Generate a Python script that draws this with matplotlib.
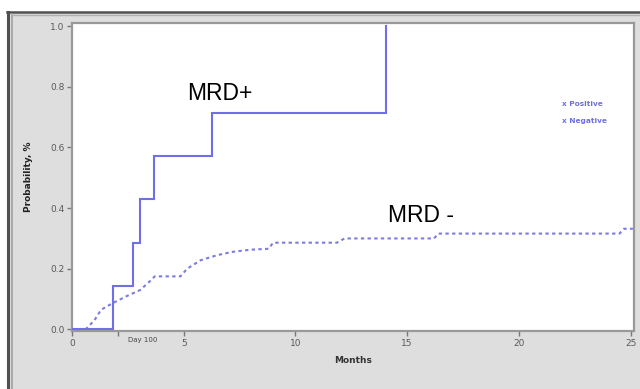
import matplotlib
matplotlib.use("Agg")
import matplotlib.pyplot as plt
from matplotlib.patches import Rectangle
from matplotlib.lines import Line2D

# ---- data ----
pos_months = [0, 1.85, 2.74, 3.03, 3.67, 6.28, 14.05]
pos_prob = [0.0, 0.143, 0.286, 0.429, 0.571, 0.714, 1.0]

neg_months = [0, 0.6, 1.0, 1.3, 1.85, 2.45, 3.05, 3.5, 3.7, 4.85, 5.15, 5.75,
              6.5, 7.2, 8.0, 8.8, 9.0, 11.85, 12.2, 16.2, 16.4, 24.5, 24.7, 25.1]
neg_prob = [0.0, 0.0, 0.03, 0.065, 0.088, 0.11, 0.13, 0.16, 0.175, 0.175, 0.2, 0.228,
            0.245, 0.256, 0.263, 0.266, 0.286, 0.286, 0.30, 0.30, 0.316, 0.316, 0.332, 0.332]

x_ticks = [0, 5, 10, 15, 20, 25]
y_ticks = [0.0, 0.2, 0.4, 0.6, 0.8, 1.0]
legend_labels = ["x Positive", "x Negative"]

W, H = 640, 389
fig = plt.figure(figsize=(W / 100, H / 100), dpi=100, facecolor="white")

def fx(px):
    return px / W

def fy(py):
    return 1 - py / H

# grey panel with frame
fig.add_artist(Rectangle((fx(7), 0), 1 - fx(7), fy(12), transform=fig.transFigure,
                         facecolor="#dedede", edgecolor="none", zorder=0))
fig.add_artist(Line2D([fx(8), fx(8)], [0, fy(12)], transform=fig.transFigure,
                      color="#505050", lw=2.2, zorder=1))
fig.add_artist(Line2D([fx(7), 1], [fy(12), fy(12)], transform=fig.transFigure,
                      color="#505050", lw=1.8, zorder=1))
fig.add_artist(Line2D([fx(11.5), fx(11.5)], [0, fy(14)], transform=fig.transFigure,
                      color="#a0a0a0", lw=1.2, zorder=1))
fig.add_artist(Line2D([fx(11.5), 1], [fy(14.5), fy(14.5)], transform=fig.transFigure,
                      color="#b0b0b0", lw=1.0, zorder=1))

ax = fig.add_axes([fx(72), fy(331), fx(634) - fx(72), fy(23) - fy(331)])
ax.set_facecolor("white")

ax.plot(pos_months, pos_prob, drawstyle="steps-post", color="#6f6fe8", lw=1.5,
        solid_joinstyle="miter", zorder=3)
ax.plot(neg_months, neg_prob, color="#7b7be0", lw=1.5, linestyle=(0, (1.6, 1.6)),
        zorder=2)

ax.set_xlim(0, 25.15)
ax.set_ylim(-0.005, 1.01)
ax.set_xticks(x_ticks + [2.06])
ax.set_xticklabels([str(v) for v in x_ticks] + [""])
ax.set_yticks(y_ticks)
ax.set_yticklabels([f"{v:.1f}" for v in y_ticks])
ax.tick_params(axis="both", direction="out", length=3.5, width=1.0, color="#777777",
               labelsize=6.5, labelcolor="#5a5a5a", pad=2)
for s in ax.spines.values():
    s.set_color("#999999")
    s.set_linewidth(1.6)

ax.set_xlabel("Months", fontsize=6.5, fontweight="bold", color="#333333", labelpad=6)
ax.set_ylabel("Probability, %", fontsize=6.5, fontweight="bold", color="#222222",
              labelpad=12)

fig.text(fx(143), fy(340), "Day 100", fontsize=5, color="#444444",
         ha="center", va="center")

fig.text(fx(220), fy(93), "MRD+", fontsize=16.5, family="Liberation Sans",
         color="black", ha="center", va="center")
fig.text(fx(421), fy(215), "MRD -", fontsize=16.5, family="Liberation Sans",
         color="black", ha="center", va="center")

fig.text(fx(562), fy(104), legend_labels[0], fontsize=5.3, fontweight="bold",
         color="#7070e0", ha="left", va="center")
fig.text(fx(562), fy(121), legend_labels[1], fontsize=5.3, fontweight="bold",
         color="#7070e0", ha="left", va="center")

fig.savefig("out.png", dpi=100, facecolor="white")
